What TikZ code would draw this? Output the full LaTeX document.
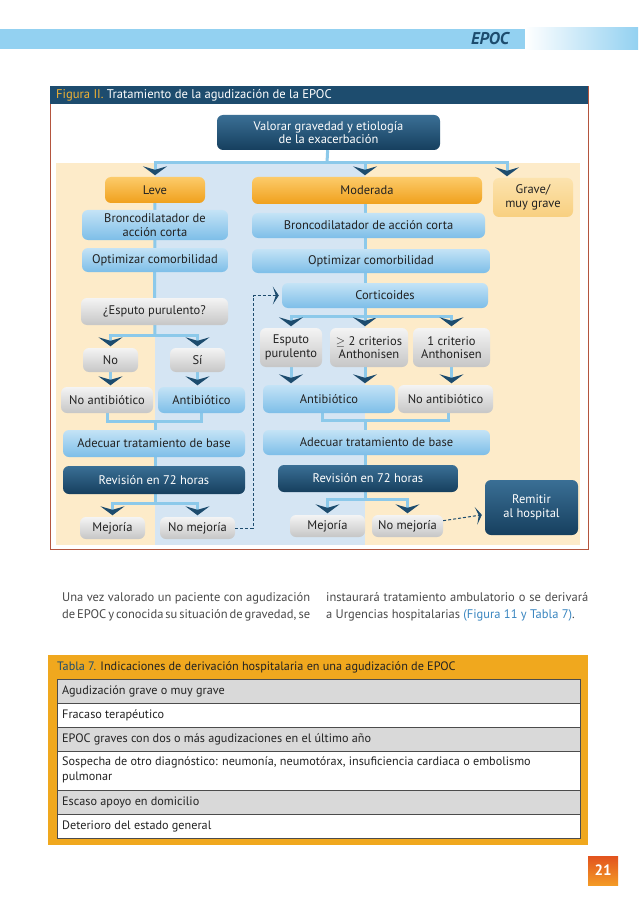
\documentclass[tikz,border=0pt]{standalone}
\usepackage{fontspec}
\setmainfont{PT Sans}
\usetikzlibrary{positioning, arrows.meta, calc}
\definecolor{navy}{HTML}{1D4C6E}
\definecolor{navyT}{HTML}{3A6F95}
\definecolor{navyB}{HTML}{163F5E}
\definecolor{linkblue}{HTML}{8CC9EA}
\definecolor{bandblue}{HTML}{93D1F1}
\definecolor{boxblueT}{HTML}{C4E3F6}
\definecolor{boxblueB}{HTML}{7DBEE8}
\definecolor{boxorangeT}{HTML}{FCCB6A}
\definecolor{boxorangeB}{HTML}{F0A01C}
\definecolor{boxcreamT}{HTML}{FCE3AE}
\definecolor{boxcreamB}{HTML}{F8CF7F}
\definecolor{boxgrayT}{HTML}{F4F4F4}
\definecolor{boxgrayB}{HTML}{C6C6C6}
\definecolor{bgcream}{HTML}{FDEBC9}
\definecolor{bgblue}{HTML}{D5E5F3}
\definecolor{framered}{HTML}{B4553E}
\definecolor{figyellow}{HTML}{F2B233}
\definecolor{textdark}{HTML}{222222}
\definecolor{bodygray}{HTML}{4A4A4A}
\definecolor{refblue}{HTML}{3A86C0}
\definecolor{tableorange}{HTML}{F0A81E}
\definecolor{rowgray}{HTML}{D9D9D9}
\definecolor{pageorange}{HTML}{F39A26}
\definecolor{pagered}{HTML}{E2531E}
\newcommand{\boxfont}{\fontsize{12.5}{13.5}\selectfont}
\newcommand{\fullline}[2]{{\spaceskip=3.2pt plus 12pt minus 1.5pt\makebox[#1][s]{#2}}}
\pgfdeclarelayer{bg}
\pgfdeclarelayer{lines}
\pgfsetlayers{bg,lines,main}
\tikzset{
    box blue/.style={rectangle, rounded corners=6pt, top color=boxblueT, bottom color=boxblueB, inner sep=1pt, align=center, font=\boxfont, text=textdark},
    box navy/.style={rectangle, rounded corners=6pt, top color=navyT, bottom color=navyB, inner sep=1pt, align=center, font=\boxfont, text=white},
    box orange/.style={rectangle, rounded corners=6pt, top color=boxorangeT, bottom color=boxorangeB, inner sep=1pt, align=center, font=\boxfont, text=textdark},
    box cream/.style={rectangle, rounded corners=6pt, top color=boxcreamT, bottom color=boxcreamB, inner sep=1pt, align=center, font=\boxfont, text=textdark},
    box gray/.style={rectangle, rounded corners=6pt, top color=boxgrayT, bottom color=boxgrayB, inner sep=1pt, align=center, font=\boxfont, text=textdark},
    conn/.style={line width=3pt, draw=linkblue},
    arr/.style={-{Stealth[length=9pt, width=24pt, inset=3.5pt, color=navy]}, shorten >=1.5pt},
    dashlink/.style={draw=navy, line width=1pt, dash pattern=on 3pt off 2pt, -{Stealth[length=6pt, width=18pt, inset=3pt, color=navy]}, shorten >=3pt},
    rowtext/.style={anchor=west, inner sep=0, font=\fontsize{12.2}{15}\selectfont, text=textdark},
}

\begin{document}
\begin{tikzpicture}[x=1pt, y=-1pt]
\useasboundingbox (0,0) rectangle (638,901);

\begin{pgfonlayer}{bg}
\fill[white] (0,0) rectangle (638,901);
% page header
\fill[bandblue] (0,29) rectangle (525,49);
\shade[left color=white, right color=bandblue] (525,28) rectangle (638,50);
% figure frame
\fill[white] (50,86) rectangle (588,549);
\fill[bgcream] (56,163) rectangle (580,545);
\fill[bgblue] (155,163) rectangle (365,545);
\draw[framered, line width=0.8pt] (50,86) rectangle (588,549);
\fill[navy] (50,86) rectangle (588,104);
\end{pgfonlayer}
\node[font=\fontsize{17}{17}\selectfont\bfseries\itshape, text=navy] (epoc) at (490,39) {EPOC};
\node[anchor=west, inner sep=0, font=\fontsize{12.6}{13}\selectfont, text=white] (figtitle) at (56,95)
    {\textcolor{figyellow}{Figura II.} Tratamiento de la agudización de la EPOC};

% boxes
\node[box navy, minimum width=223pt, minimum height=35pt] (val) at (328.5,132.5) {Valorar gravedad y etiología\\de la exacerbación};
\node[box orange, minimum width=100pt, minimum height=26pt] (leve) at (155,190) {Leve};
\node[box orange, minimum width=230pt, minimum height=27pt] (mod) at (367,190.5) {Moderada};
\node[box cream, minimum width=80pt, minimum height=39pt] (grave) at (533,197.5) {Grave/\\muy grave};
% leve column
\node[box blue, minimum width=146pt, minimum height=30pt] (bronL) at (155,225) {Broncodilatador de\\acción corta};
\node[box blue, minimum width=146pt, minimum height=24pt] (optL) at (155,260) {Optimizar comorbilidad};
\node[box gray, minimum width=147pt, minimum height=27pt] (esp) at (154.5,311.5) {¿Esputo purulento?};
\node[box gray, minimum width=55pt, minimum height=24pt] (no) at (110.5,360) {No};
\node[box gray, minimum width=55pt, minimum height=24pt] (si) at (197.5,360) {Sí};
\node[box gray, minimum width=92pt, minimum height=26pt] (noab) at (107,400) {No antibiótico};
\node[box blue, minimum width=87pt, minimum height=26pt] (ab) at (201.5,400) {Antibiótico};
\node[box blue, minimum width=182pt, minimum height=27pt] (adeL) at (154,443.5) {Adecuar tratamiento de base};
\node[box navy, minimum width=182pt, minimum height=28pt] (revL) at (154,480) {Revisión en 72 horas};
\node[box gray, minimum width=65pt, minimum height=22pt] (mejL) at (112.5,528) {Mejoría};
\node[box gray, minimum width=75pt, minimum height=22pt] (nomejL) at (197.5,528) {No mejoría};
% moderada column
\node[box blue, minimum width=233pt, minimum height=25pt] (bronR) at (368.5,225.5) {Broncodilatador de acción corta};
\node[box blue, minimum width=238pt, minimum height=24pt] (optR) at (371,261) {Optimizar comorbilidad};
\node[box blue, minimum width=206pt, minimum height=25pt] (cort) at (385,295.5) {Corticoides};
\node[box gray, minimum width=62pt, minimum height=39pt] (espR) at (291,347.5) {Esputo\\purulento};
\node[box gray, minimum width=78pt, minimum height=39pt] (crit2) at (369,347.5) {$\geq$ 2 criterios\\Anthonisen};
\node[box gray, minimum width=77pt, minimum height=39pt] (crit1) at (451.5,347.5) {1 criterio\\Anthonisen};
\node[box blue, minimum width=132pt, minimum height=28pt] (abR) at (329,399) {Antibiótico};
\node[box gray, minimum width=95pt, minimum height=28pt] (noabR) at (445.5,399) {No antibiótico};
\node[box blue, minimum width=227pt, minimum height=25pt] (adeR) at (376.5,442.5) {Adecuar tratamiento de base};
\node[box navy, minimum width=180pt, minimum height=27pt] (revR) at (368,478.5) {Revisión en 72 horas};
\node[box gray, minimum width=75pt, minimum height=22pt] (mejR) at (327.5,526) {Mejoría};
\node[box gray, minimum width=71pt, minimum height=22pt] (nomejR) at (407.5,526) {No mejoría};
\node[box navy, minimum width=93pt, minimum height=55pt] (rem) at (531.5,507.5) {Remitir\\al hospital};

% junction points
\coordinate (hub) at (327,163);
\coordinate (fk1) at (155,335);
\coordinate (jn1) at (155,421);
\coordinate (fk2) at (155,503);
\coordinate (fk3) at (365,316);
\coordinate (jn2) at (365,420);
\coordinate (fk4) at (365,499);
\coordinate (dash1) at (253,528);

\begin{pgfonlayer}{lines}
\draw[conn] (val) -- (hub);
\draw[conn, arr] (hub) -| (leve);
\draw[conn, arr] (hub) -| (mod.north -| fk3);
\draw[conn, arr] (hub) -| ([xshift=-26pt]grave.north);
% leve
\draw[conn] (leve) -- (esp);
\draw[conn] (esp) -- (fk1);
\draw[conn, arr] (fk1) -| (no);
\draw[conn, arr] (fk1) -| (si);
\draw[conn, arr] (no) -- (no |- noab.north);
\draw[conn, arr] (si) -- (si |- ab.north);
\draw[conn] (noab) |- (jn1) -| (ab);
\draw[conn] (jn1) -- (jn1 |- adeL.north);
\draw[conn] (adeL.south -| jn1) -- (revL.north -| jn1);
\draw[conn] (revL.south -| fk2) -- (fk2);
\draw[conn, arr] (fk2) -| (mejL);
\draw[conn, arr] (fk2) -| (nomejL);
% moderada
\draw[conn] (mod.south -| fk3) -- (cort.north -| fk3);
\draw[conn] (cort.south -| fk3) -- (fk3);
\draw[conn, arr] (fk3) -| (espR);
\draw[conn, arr] (fk3) -- (fk3 |- crit2.north);
\draw[conn, arr] (fk3) -| (crit1);
\draw[conn, arr] (espR) -- (espR |- abR.north);
\draw[conn, arr] (crit2.south -| fk3) -- (fk3 |- abR.north);
\draw[conn, arr] (crit1) -- (crit1 |- noabR.north);
\draw[conn] ([xshift=-7pt]abR.south) |- (jn2) -| ([xshift=2.5pt]noabR.south);
\draw[conn] (jn2) -- (jn2 |- adeR.north);
\draw[conn] (adeR.south -| jn2) -- (revR.north -| jn2);
\draw[conn] (revR.south -| fk4) -- (fk4);
\draw[conn, arr] (fk4) -| (mejR);
\draw[conn, arr] (fk4) -| (nomejR);
\end{pgfonlayer}
\draw[dashlink] (nomejL) -- (dash1) |- (cort);
\draw[dashlink] (nomejR) -- (rem);

% body text
\node[anchor=north west, inner sep=0, align=left, font=\fontsize{12.5}{17}\selectfont, text=bodygray] (parL) at (62,592)
    {\fullline{248pt}{Una vez valorado un paciente con agudización}\\\fullline{248pt}{de EPOC y conocida su situación de gravedad, se}};
\node[anchor=north west, inner sep=0, align=left, font=\fontsize{12.5}{17}\selectfont, text=bodygray] (parR) at (326,592)
    {\fullline{262pt}{instaurará tratamiento ambulatorio o se derivará}\\a Urgencias hospitalarias \textcolor{refblue}{(Figura 11 y Tabla 7)}.};

% table 7
\begin{pgfonlayer}{bg}
\fill[tableorange] (48,655) rectangle (588,845);
\foreach \ya/\yb/\rowfill in {679/703/rowgray, 703/727/white, 727/751/rowgray, 751/790/white, 790/814/rowgray, 814/838/white}
    \filldraw[fill=\rowfill, draw=black!70, line width=0.6pt] (57,\ya) rectangle (580,\yb);
\end{pgfonlayer}
\node[anchor=west, inner sep=0, font=\fontsize{12.2}{13}\selectfont, text=textdark] (tabtitle) at (57,667)
    {\textcolor{navy}{Tabla 7.} Indicaciones de derivación hospitalaria en una agudización de EPOC};
\node[rowtext] (r1) at (62,691) {Agudización grave o muy grave};
\node[rowtext] (r2) at (62,715) {Fracaso terapéutico};
\node[rowtext] (r3) at (62,739) {EPOC graves con dos o más agudizaciones en el último año};
\node[rowtext, align=left] (r4) at (62,770) {Sospecha de otro diagnóstico: neumonía, neumotórax, insuficiencia cardiaca o embolismo\\pulmonar};
\node[rowtext] (r5) at (62,802) {Escaso apoyo en domicilio};
\node[rowtext] (r6) at (62,826) {Deterioro del estado general};

% page number
\shade[bottom color=pageorange, top color=pagered] (588,856) rectangle (618,885);
\node[font=\fontsize{15}{15}\selectfont\bfseries, text=white] (pagenum) at (603,870.5) {21};
\end{tikzpicture}
\end{document}
